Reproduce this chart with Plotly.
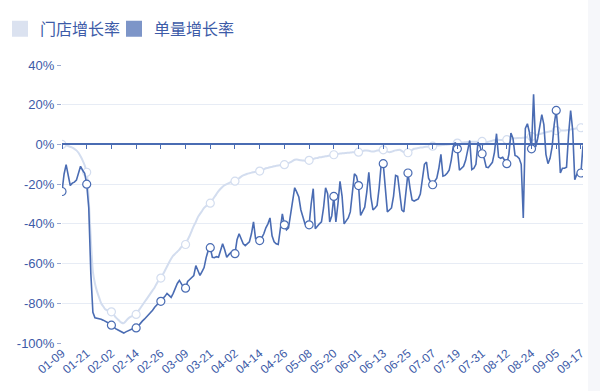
import pandas as pd
import plotly.graph_objects as go

# ---------------- data ----------------
START_DATE = "2020-01-09"

# 单量增长率 (order volume growth, %)
DARK = [
    -23.7, -15, -10.2, -15, -20.7, -19.5, -19, -18, -15, -11,
    -13, -14.5, -20, -32, -65, -84.5, -87.3, -87.5, -87.8, -88,
    -88.5, -89, -89.5, -90.2, -91, -92, -92.8, -93.3, -94, -94.6,
    -95, -94.4, -93.8, -93.4, -93, -92.7, -92.4, -91.5, -90, -89,
    -88, -87, -86, -85, -83.5, -82, -81, -80, -79, -78,
    -76.5, -75, -76, -77, -75, -72.5, -70, -68.5, -70, -72,
    -72.4, -69, -68, -67, -66, -61, -64, -66, -64, -62,
    -57, -53.4, -52, -56.8, -57, -56.5, -56.8, -53, -50, -53,
    -56.8, -55.5, -54.5, -53.4, -55, -48, -45, -47.5, -50, -51,
    -50, -49, -45, -39, -47.5, -48, -48.4, -47, -45, -42,
    -40, -37, -46, -49, -50, -50.4, -43, -35, -40.5, -43,
    -42, -36, -28, -21.8, -24, -26.5, -33, -37, -40, -41.6,
    -40.5, -30, -22.3, -42.5, -41, -40, -39, -32, -21.8, -24.8,
    -39, -36, -26.2, -39, -30, -18.6, -26, -40, -38.5, -37,
    -34, -25, -14.8, -16, -20.7, -35.8, -33.5, -31.6, -24, -14,
    -26.5, -33, -32, -30.7, -22, -10, -9.7, -24, -34, -33,
    -32, -26, -15.6, -16, -25.7, -33, -34, -24, -14.4, -22,
    -28, -28.5, -28, -27.4, -25, -18, -10, -8.9, -17, -19,
    -20.3, -18.5, -17, -12, -5, -16, -15.6, -14.5, -13, -8,
    -1, 1, -2.2, -13, -12, -11, -8, -2, 2, -12.7,
    -12, -10, 1, -1, -4.7, -7, -11.4, -11.7, -10.5, -9,
    -4, 5.4, -6.4, -7, -6.5, -8.5, -9.7, -5, 5.7, 3,
    -5.5, -6, -7, -10, -37, 8, 10.4, 6, -2.2, 25.2,
    -1.3, 3, 8.5, 15, 10, -5, -9.7, -7, -1.3, 10,
    17.1, 5, -14.4, -12, -12, -11.5, 5, 17.1, 7, -17.8,
    -15, -13, -14.4, -0.5,
]

# 门店增长率 (store growth, %)
LIGHT = [
    0, -0.2, -0.5, -0.8, -1.2, -1.6, -2.2, -3, -4.2, -6,
    -8, -10.5, -14, -28, -48, -64, -70, -74, -77, -80,
    -81.5, -83, -83.5, -84, -84.3, -85.5, -87, -88, -89, -89.8,
    -90, -89, -87.8, -87, -86.5, -86, -85.6, -84, -82.5, -81,
    -79.5, -78, -76.5, -75, -73.5, -72, -70, -68.5, -67.3, -65.5,
    -63.5, -61.5, -59.5, -57.6, -56, -55, -54, -53, -51.5, -50.8,
    -50.4, -48, -46, -43.5, -41, -39, -36.6, -35, -33.5, -32,
    -31, -30, -29.6, -28, -26.5, -25, -23.5, -22.3, -21.3, -20.5,
    -20, -19.5, -19, -18.7, -18.5, -17.8, -17, -16.2, -15.6, -15.2,
    -14.8, -14.5, -14.2, -14, -13.8, -13.6, -13.4, -13, -12.5, -12,
    -11.8, -11.5, -11.3, -11, -10.8, -10.6, -10.5, -10.4, -10.2, -9.8,
    -9.4, -8.9, -8.3, -7.7, -7.6, -7.8, -8, -8.1, -8.2, -8.1,
    -8, -7.6, -7.3, -7, -6.8, -6.5, -6.4, -6.2, -6, -5.8,
    -5.6, -5.4, -5.2, -5, -4.8, -4.6, -4.5, -4.4, -4.3, -4.2,
    -4.1, -4, -3.9, -3.9, -3.9, -3.6, -3.3, -3.1, -3, -3.2,
    -3.5, -3.6, -3.4, -3.1, -2.9, -2.8, -2.7, -3.2, -3.6, -3.9,
    -3.7, -3.3, -3, -2.8, -2.7, -3.3, -3.9, -4.4, -4.2, -3.5,
    -2.8, -2.2, -2, -1.8, -1.6, -1.5, -1.3, -1.2, -1.1, -1,
    -0.9, -0.8, -0.6, -0.5, -0.4, -0.3, -0.2, -0.1, 0, 0.2,
    0.4, 0.6, 0.7, 0.8, 0.9, 1, 1.1, 1.2, 1.2, 1.3,
    1.3, 1.4, 1.4, 1.5, 1.5, 1.3, 1.2, 1.3, 1.6, 1.9,
    2.2, 2.4, 2.3, 2.2, 2.3, 2.4, 2.4, 2.6, 2.8, 3,
    3.1, 3.2, 3.3, 3.3, 3.4, 3.5, 3.7, 3.9, 4, 4.3,
    4.6, 4.9, 5.2, 5.5, 5.8, 6.1, 6.4, 6.6, 6.8, 6.9,
    7, 7.1, 7.1, 7, 7, 7.1, 7.3, 7.5, 7.7, 7.9,
    8.1, 8.3, 8.4, 8.5,
]

DATES = pd.date_range(START_DATE, periods=len(DARK)).strftime("%m-%d").tolist()

X_TICK_LABELS = ["01-09", "01-21", "02-02", "02-14", "02-26", "03-09", "03-21",
                 "04-02", "04-14", "04-26", "05-08", "05-20", "06-01", "06-13",
                 "06-25", "07-07", "07-19", "07-31", "08-12", "08-24", "09-05",
                 "09-17"]
Y_TICK_VALS = [40, 20, 0, -20, -40, -60, -80, -100]
Y_TICK_TEXT = ["40%", "20%", "0%", "-20%", "-40%", "-60%", "-80%", "-100%"]
SERIES_NAMES = ["门店增长率", "单量增长率"]
MARK_EVERY = 12

# ---------------- style ----------------
DARK_C = "#4a6cb3"
LIGHT_C = "#d3ddef"
TEXT_C = "#3d5ba8"
GRID_C = "#e7ecf5"
FONT = "Liberation Sans, Arial, Noto Sans CJK SC, sans-serif"

y_min, y_max = -100, 40
n = len(DARK)

fig = go.Figure()

# store growth line + markers
fig.add_trace(go.Scatter(x=DATES, y=LIGHT, mode="lines", name=SERIES_NAMES[0],
                         legendgroup="a", showlegend=False,
                         line=dict(color=LIGHT_C, width=2, shape="spline", smoothing=0.6),
                         hoverinfo="x+y"))
fig.add_trace(go.Scatter(x=DATES[::MARK_EVERY], y=LIGHT[::MARK_EVERY], mode="markers",
                         legendgroup="a", showlegend=False,
                         marker=dict(size=8, color="white", line=dict(color=LIGHT_C, width=1.2)),
                         hoverinfo="skip"))
# order growth line + markers
fig.add_trace(go.Scatter(x=DATES, y=DARK, mode="lines", name=SERIES_NAMES[1],
                         legendgroup="b", showlegend=False,
                         line=dict(color=DARK_C, width=1.6),
                         hoverinfo="x+y"))
fig.add_trace(go.Scatter(x=DATES[::MARK_EVERY], y=DARK[::MARK_EVERY], mode="markers",
                         legendgroup="b", showlegend=False,
                         marker=dict(size=8, color="white", line=dict(color=DARK_C, width=1.2)),
                         hoverinfo="skip"))
# legend swatches (one legend box each, so they can sit close together)
fig.add_trace(go.Scatter(x=[None], y=[None], mode="markers", name=SERIES_NAMES[0],
                         legendgroup="a", legend="legend",
                         marker=dict(symbol="square", size=16, color="#dbe2f0")))
fig.add_trace(go.Scatter(x=[None], y=[None], mode="markers", name=SERIES_NAMES[1],
                         legendgroup="b", legend="legend2",
                         marker=dict(symbol="square", size=16, color="#7d95c8")))
# axis at zero with ticks
fig.add_trace(go.Scatter(x=[0, n - 1], y=[None, None], xaxis="x2", yaxis="y",
                         showlegend=False, hoverinfo="skip"))

zero_pos = (0 - y_min) / (y_max - y_min)

legend_common = dict(orientation="h", xref="container", yref="container",
                     y=0.97, xanchor="left", yanchor="top",
                     font=dict(size=16, color=TEXT_C), itemwidth=30,
                     bgcolor="rgba(0,0,0,0)")

fig.update_layout(
    width=600, height=391,
    margin=dict(l=62, r=17, t=65, b=48, autoexpand=False),
    paper_bgcolor="white", plot_bgcolor="white",
    font=dict(family=FONT, color=TEXT_C, size=12),
    showlegend=True,
    legend=dict(x=-0.008, **legend_common),
    legend2=dict(x=0.19, **legend_common),
    xaxis=dict(type="category", range=[0, n - 1],
               tickmode="array", tickvals=X_TICK_LABELS, ticktext=X_TICK_LABELS,
               tickangle=-40, tickfont=dict(size=12, color=TEXT_C),
               showgrid=False, zeroline=False, showline=False, ticks=""),
    xaxis2=dict(overlaying="x", anchor="free", position=zero_pos, side="bottom",
                range=[0, n - 1], tickmode="array",
                tickvals=[i for i in range(0, n, MARK_EVERY)],
                showticklabels=False, ticks="outside", ticklen=4, tickcolor=DARK_C,
                showline=True, linecolor=DARK_C, linewidth=1.5,
                showgrid=False, zeroline=False),
    yaxis=dict(range=[y_min, y_max], tickmode="array",
               tickvals=Y_TICK_VALS, ticktext=Y_TICK_TEXT,
               tickfont=dict(size=13, color=TEXT_C),
               showgrid=True, gridcolor=GRID_C, gridwidth=1,
               zeroline=False, showline=False,
               ticks="outside", ticklen=4, tickcolor="#9aaad0"),
    shapes=[dict(type="rect", xref="paper", yref="paper",
                 x0=(588 - 62) / 521, x1=(600 - 62) / 521, y0=-0.2, y1=1.3,
                 fillcolor="#f6f7fa", line=dict(width=0), layer="below")],
    hovermode="x unified",
)

fig.write_html("out.html", config={"displayModeBar": False},
               post_script="document.body.style.margin='0';")
